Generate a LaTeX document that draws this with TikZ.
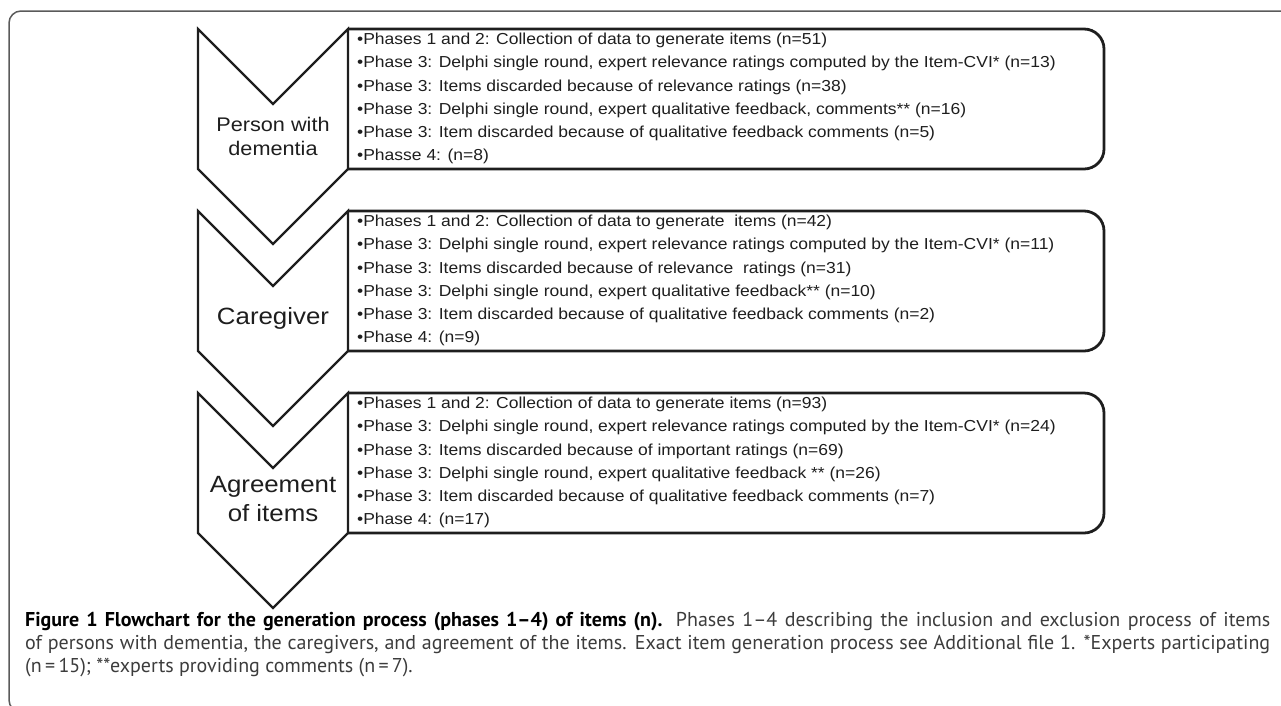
\documentclass[tikz,border=0pt]{standalone}
\usepackage{fontspec}
\setmainfont{Liberation Sans}
\newfontfamily\chartfont[FakeStretch=1.1]{Liberation Sans}
\newfontfamily\capfont{PT Sans}
\usetikzlibrary{calc}
\definecolor{framegray}{HTML}{5A5A5A}
\definecolor{inkgray}{HTML}{1E1E1E}
\definecolor{capgray}{HTML}{3C3C3C}
\newcommand{\listsize}{\fontsize{15.9}{23.2}\selectfont}

\begin{document}
\begin{tikzpicture}[%
    x=1pt, y=-1pt,
    chevron/.style={draw=inkgray, line width=2.2pt, line join=miter},
    listbox/.style={draw=inkgray, line width=2.8pt, rounded corners=20pt},
    listtext/.style={
      anchor=north west,
      inner sep=0pt,
      align=left,
      text=inkgray,
      font=\chartfont\listsize
    },
    label/.style={
      align=center,
      inner sep=0pt,
      text=inkgray
    }
    ]
    \useasboundingbox (0,0) rectangle (1281,705);
    \begin{scope}
      \clip (0,0) rectangle (1281,705);
      \draw[framegray, line width=1.5pt, rounded corners=12pt] (9,712) rectangle (1320,11);
    \end{scope}

    % chevrons and list boxes
    \foreach \t in {29,211,393} {
      \draw[chevron] (198,\t) -- (273,\t+75) -- (348,\t) -- (348,\t+140) -- (273,\t+215) -- (198,\t+140) -- cycle;
      \draw[listbox] (348,\t) -- (1104,\t) -- (1104,\t+140) -- (348,\t+140);
    }

    \node[label, font=\chartfont\fontsize{19.7}{24}\selectfont] (pwd) at (273,136) {Person with\\dementia};
    \node[label, font=\chartfont\fontsize{23.5}{28.5}\selectfont] (cg) at (273,318) {Caregiver};
    \node[label, font=\chartfont\fontsize{23.5}{28.5}\selectfont] (agr) at (273,499) {Agreement\\of items};

    \node[listtext] (pwdlist) at (357,33) {%
      •Phases 1 and 2: Collection of data to generate items (n=51)\\
      •Phase 3: Delphi single round, expert relevance ratings computed by the Item-CVI* (n=13)\\
      •Phase 3: Items discarded because of relevance ratings (n=38)\\
      •Phase 3: Delphi single round, expert qualitative feedback, comments** (n=16)\\
      •Phase 3: Item discarded because of qualitative feedback comments (n=5)\\
      •Phasse 4: (n=8)};
    \node[listtext] (cglist) at (357,215) {%
      •Phases 1 and 2: Collection of data to generate\ \ items (n=42)\\
      •Phase 3: Delphi single round, expert relevance ratings computed by the Item-CVI* (n=11)\\
      •Phase 3: Items discarded because of relevance\ \ ratings (n=31)\\
      •Phase 3: Delphi single round, expert qualitative feedback** (n=10)\\
      •Phase 3: Item discarded because of qualitative feedback comments (n=2)\\
      •Phase 4: (n=9)};
    \node[listtext] (agrlist) at (357,397) {%
      •Phases 1 and 2: Collection of data to generate items (n=93)\\
      •Phase 3: Delphi single round, expert relevance ratings computed by the Item-CVI* (n=24)\\
      •Phase 3: Items discarded because of important ratings (n=69)\\
      •Phase 3: Delphi single round, expert qualitative feedback ** (n=26)\\
      •Phase 3: Item discarded because of qualitative feedback comments (n=7)\\
      •Phase 4: (n=17)};

    \node[anchor=north west, inner sep=0pt, text width=1245pt, align=justify, text=capgray,
          font=\capfont\fontsize{20}{23}\selectfont] (caption) at (25,612) {%
      {\bfseries\color{black}Figure 1 Flowchart for the generation process (phases 1–4) of items (n).}
      Phases 1–4 describing the inclusion and exclusion process of items\linebreak
      of persons with dementia, the caregivers, and agreement of the items. Exact item generation process see Additional file 1. *Experts participating\linebreak
      (n\,=\,15); **experts providing comments (n\,=\,7).};
  \end{tikzpicture}
\end{document}
